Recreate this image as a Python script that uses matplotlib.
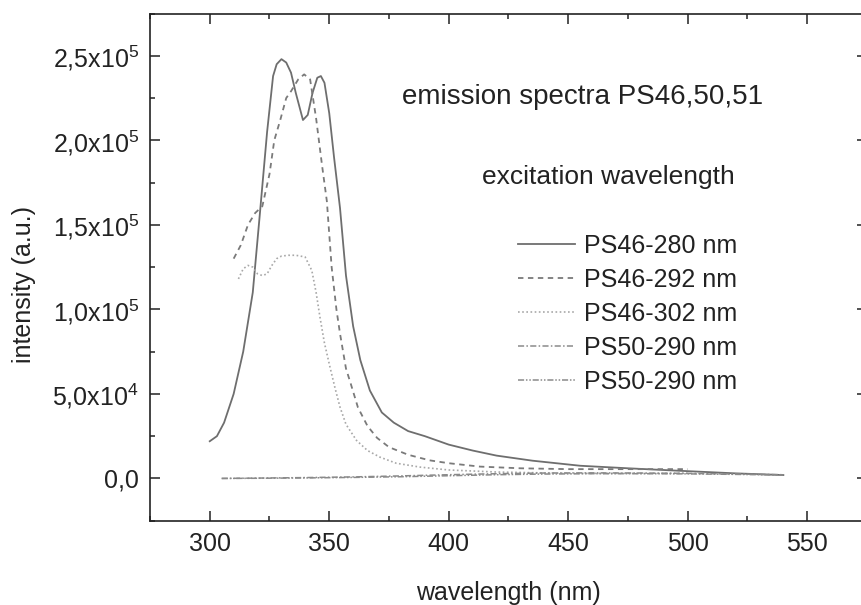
import numpy as np
import matplotlib
matplotlib.use("Agg")
import matplotlib.pyplot as plt
from matplotlib.ticker import MultipleLocator, FixedLocator, FixedFormatter

plt.rcParams['font.family'] = ['Liberation Sans', 'DejaVu Sans']
plt.rcParams['mathtext.fontset'] = 'custom'
plt.rcParams['mathtext.rm'] = 'Liberation Sans'
plt.rcParams['mathtext.it'] = 'Liberation Sans'

# PS46 - 280 nm (solid)
wl_280 = [300, 303, 306, 310, 314, 318, 321, 324, 326.5, 328, 330, 332, 334, 336,
          339, 341, 343, 345, 346.5, 348, 350, 352, 354.5, 357, 360, 363, 367, 372,
          377, 383, 390, 400, 410, 420, 435, 455, 475, 497, 520, 540]
i_280 = [22000, 25000, 33000, 50000, 75000, 110000, 157000, 205000, 238000, 245000,
         248000, 246000, 240000, 228000, 212000, 215000, 228000, 237000, 238000, 234000,
         216000, 190000, 160000, 120000, 90000, 70000, 52000, 39000, 33000, 28000,
         25000, 20000, 16500, 13500, 10500, 7500, 6000, 4500, 3000, 2000]

# PS46 - 292 nm (dashed)
wl_292 = [310, 313, 316, 319, 322, 325, 327, 329.5, 332, 334, 337, 339.5, 342, 344.5,
          347, 349, 351, 353, 354.5, 357, 359, 362, 366, 370, 375, 383, 392, 400, 413,
          430, 450, 470, 500]
i_292 = [130000, 138000, 150000, 157000, 161000, 180000, 200000, 212000, 225000, 229000,
         236000, 239000, 236000, 213000, 185000, 164000, 125000, 100000, 85700, 65000,
         56000, 42000, 31000, 24000, 18500, 14000, 10700, 9000, 7000, 6000, 5500, 5500, 5500]

# PS46 - 302 nm (dotted)
wl_302 = [312, 314, 316, 318, 320, 322, 324, 326, 328, 330, 333, 336, 339.9, 342.7, 344.5,
          346.1, 348, 350.3, 352.5, 354.5, 357, 361.4, 366, 371.2, 378, 388, 400, 420,
          450, 475, 500]
i_302 = [118000, 124000, 126000, 125000, 121000, 120000, 121000, 126000, 130000, 131500,
         132000, 132000, 131000, 123000, 110000, 95500, 80000, 65900, 53000, 42200, 32000,
         22500, 16500, 12600, 9000, 6700, 5000, 3800, 3000, 3000, 3000]

# PS50 - 290 nm (two runs)
wl_50 = [305, 320, 340, 360, 380, 400, 420, 440, 460, 480, 500, 520, 540]
i_50a = [0, 200, 500, 900, 1500, 2200, 2800, 3200, 3300, 3200, 3000, 2600, 2200]
i_50b = [0, 100, 300, 600, 1000, 1600, 2200, 2600, 2800, 2800, 2700, 2400, 2000]

labels = ['PS46-280 nm', 'PS46-292 nm', 'PS46-302 nm', 'PS50-290 nm', 'PS50-290 nm']

y_ticks = [0, 50000, 100000, 150000, 200000, 250000]
y_tick_labels = ['0,0', '5,0x10$^4$', '1,0x10$^5$', '1,5x10$^5$', '2,0x10$^5$', '2,5x10$^5$']
x_ticks = [300, 350, 400, 450, 500, 550]

fig = plt.figure(figsize=(8.62, 6.05), dpi=100)
ax = fig.add_axes([150 / 862, 1 - 520.7 / 605, 717 / 862, (520.7 - 13.5) / 605])

ax.plot(wl_280, i_280, color='#6e6e6e', lw=1.3, ls='-', label=labels[0])
ax.plot(wl_292, i_292, color='#7a7a7a', lw=1.3, ls=(0, (3, 2.5)), label=labels[1])
ax.plot(wl_302, i_302, color='#a8a8a8', lw=1.2, ls=(0, (1, 1.5)), label=labels[2])
ax.plot(wl_50, i_50a, color='#8a8a8a', lw=1.1, ls=(0, (4, 1.5, 1, 1.5)), label=labels[3])
ax.plot(wl_50, i_50b, color='#8a8a8a', lw=1.1, ls=(0, (4, 1.2, 1, 1.2, 1, 1.2)), label=labels[4])

ax.set_xlim(275, 575)
ax.set_ylim(-25000, 275000)
ax.xaxis.set_major_locator(FixedLocator(x_ticks))
ax.xaxis.set_minor_locator(MultipleLocator(25))
ax.yaxis.set_major_locator(FixedLocator(y_ticks))
ax.yaxis.set_major_formatter(FixedFormatter(y_tick_labels))
ax.yaxis.set_minor_locator(MultipleLocator(25000))

ax.tick_params(which='both', direction='in', top=True, right=True, width=1.1,
               labelsize=18, colors='#222222')
ax.tick_params(which='major', length=7.2, pad=8)
ax.tick_params(which='minor', length=3.6)
for s in ax.spines.values():
    s.set_linewidth(1.2)
    s.set_color('#222222')

ax.set_xlabel('wavelength (nm)', fontsize=18, labelpad=18, color='#222222')
ax.set_ylabel('intensity (a.u.)', fontsize=18, labelpad=12, color='#222222')
ax.yaxis.label.set_y(0.465)

fig.text(402 / 862, 1 - 97 / 605, 'emission spectra PS46,50,51', fontsize=20,
         va='center', ha='left', color='#222222')
fig.text(482 / 862, 1 - 177 / 605, 'excitation wavelength', fontsize=19,
         va='center', ha='left', color='#222222')

ax.legend(loc='upper left', bbox_to_anchor=(518 / 862, 1 - 234 / 605),
          bbox_transform=fig.transFigure, frameon=False, fontsize=18,
          handlelength=2.3, handletextpad=0.35, labelspacing=0.4,
          borderaxespad=0, borderpad=0, labelcolor='#222222')

fig.savefig('out.png', dpi=100)
